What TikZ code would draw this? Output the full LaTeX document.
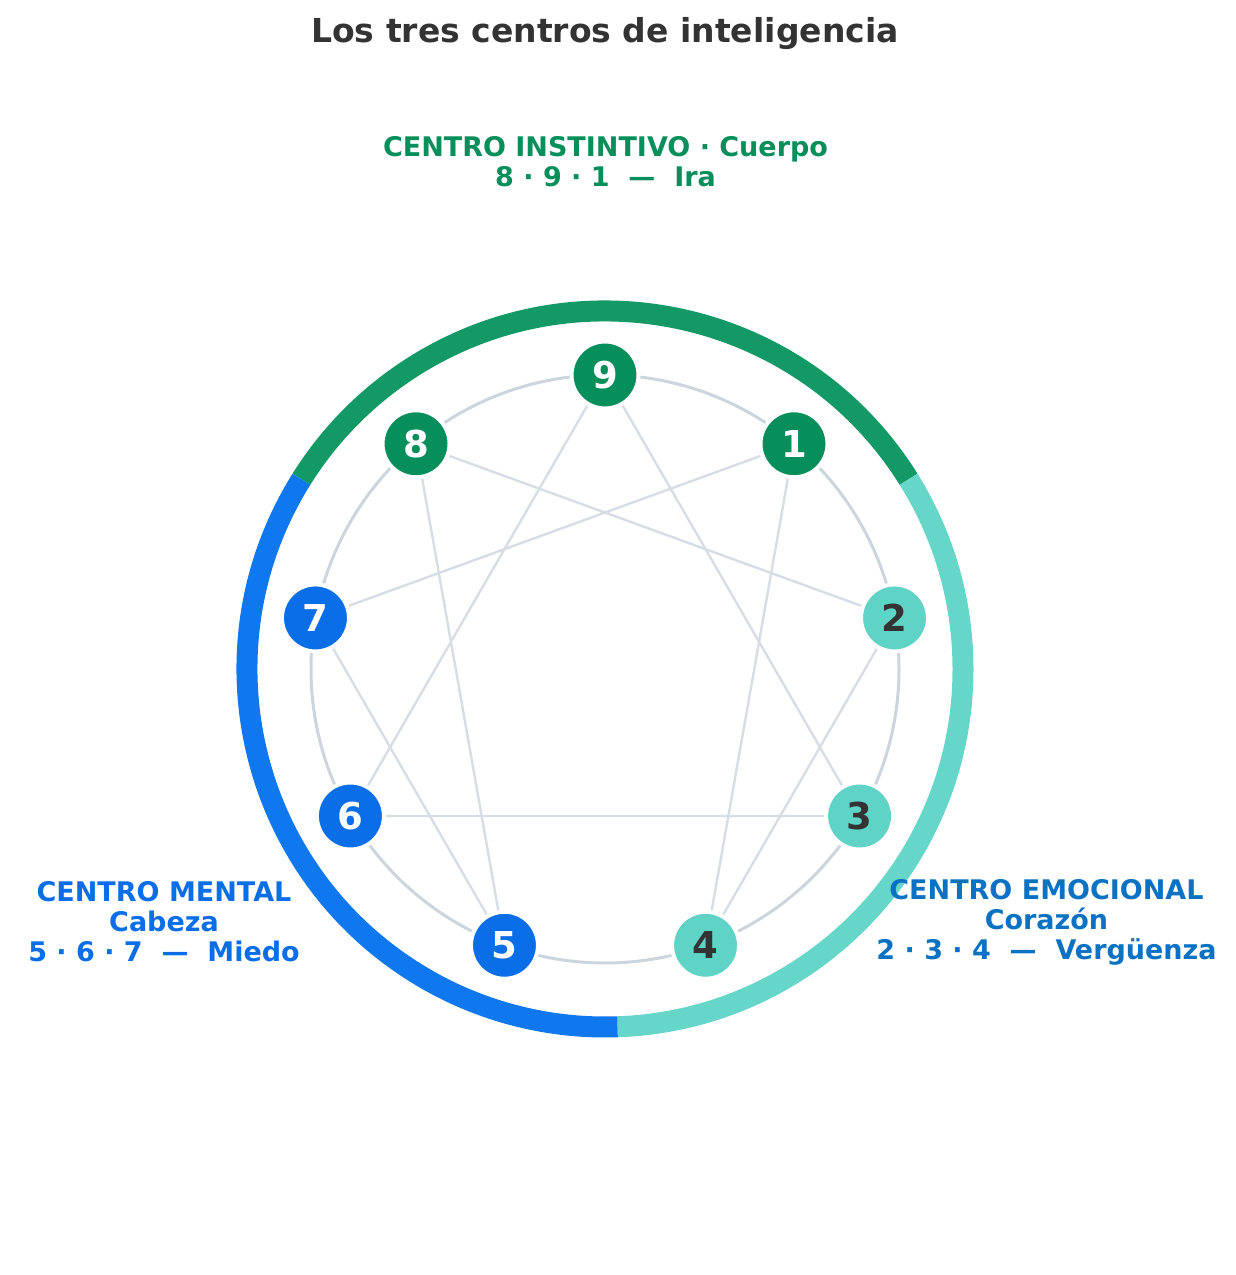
\documentclass[tikz,border=0pt]{standalone}
\usepackage{fontspec}
\setmainfont{DejaVu Sans}
\usetikzlibrary{backgrounds}
\definecolor{gnode}{HTML}{078F5B}
\definecolor{gring}{HTML}{129966}
\definecolor{tnode}{HTML}{5FD3C6}
\definecolor{tring}{HTML}{66D6C9}
\definecolor{bnode}{HTML}{0A6EE8}
\definecolor{bring}{HTML}{0F78EE}
\definecolor{circgray}{HTML}{CCD5DD}
\definecolor{linegray}{HTML}{D6DDE4}
\definecolor{titlegray}{HTML}{333333}
\definecolor{emoblue}{HTML}{0B72C3}
\begin{document}
\begin{tikzpicture}[x=1pt,y=1pt,
  enn/.style={circle, minimum size=67, inner sep=0, draw=white, line width=4,
    font=\fontsize{37}{37}\selectfont\bfseries},
  gn/.style={enn, fill=gnode, text=white},
  tn/.style={enn, fill=tnode, text=titlegray},
  bn/.style={enn, fill=bnode, text=white},
  ringarc/.style={line width=21},
  ennline/.style={linegray, line width=2.4},
  lbl/.style={inner sep=0, align=center, font=\fontsize{27}{30}\selectfont\bfseries}
]
\useasboundingbox (0,0) rectangle (1235,1275);
\coordinate (C) at (605,606);

% outer ring
\draw[ringarc, gring] ([shift={(32:358)}]C) arc (32:148:358);
\draw[ringarc, tring] ([shift={(-88:358)}]C) arc (-88:32:358);
\draw[ringarc, bring] ([shift={(148:358)}]C) arc (148:272:358);

% nodes
\node[gn] (n9) at ([shift={(90:294)}]C) {9};
\node[gn] (n1) at ([shift={(50:294)}]C) {1};
\node[tn] (n2) at ([shift={(10:294)}]C) {2};
\node[tn] (n3) at ([shift={(-30:294)}]C) {3};
\node[tn] (n4) at ([shift={(-70:294)}]C) {4};
\node[bn] (n5) at ([shift={(-110:294)}]C) {5};
\node[bn] (n6) at ([shift={(-150:294)}]C) {6};
\node[bn] (n7) at ([shift={(170:294)}]C) {7};
\node[gn] (n8) at ([shift={(130:294)}]C) {8};

\begin{pgfonlayer}{background}
  \draw[circgray, line width=3] (C) circle (294);
  \draw[ennline] (n9.center) -- (n3.center) -- (n6.center) -- cycle;
  \draw[ennline] (n1.center) -- (n4.center) -- (n2.center) -- (n8.center)
     -- (n5.center) -- (n7.center) -- cycle;
\end{pgfonlayer}

% texts
\node[anchor=base, inner sep=0, text=titlegray, font=\fontsize{33}{40}\selectfont\bfseries]
  (title) at (605,1232) {Los tres centros de inteligencia};
\node[lbl, text=gnode] (instinto) at (605.5,1113)
  {CENTRO INSTINTIVO · Cuerpo\\8 · 9 · 1~~—~~Ira};
\node[lbl, text=bnode] (mental) at (164,353)
  {CENTRO MENTAL\\Cabeza\\5 · 6 · 7~~—~~Miedo};
\node[lbl, text=emoblue] (emocional) at (1046.5,353)
  {CENTRO EMOCIONAL\\Corazón\\2 · 3 · 4~~—~~Vergüenza};
\end{tikzpicture}
\end{document}
